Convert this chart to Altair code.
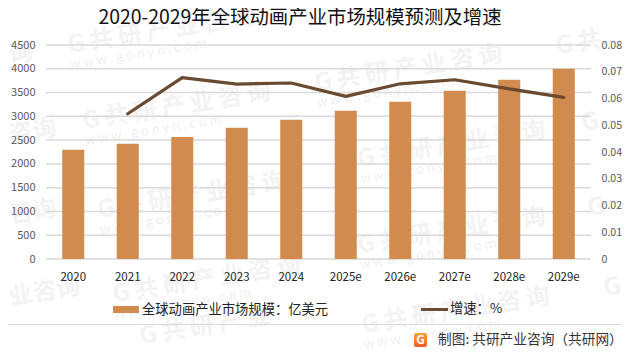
import altair as alt
import pandas as pd

years = ["2020","2021","2022","2023","2024","2025e","2026e","2027e","2028e","2029e"]
market = [2295,2421,2568,2758,2926,3116,3305,3537,3768,4000]
growth = [None,0.0543,0.0678,0.0654,0.0658,0.0608,0.0655,0.067,0.0636,0.0604]
left_ticks = [0,500,1000,1500,2000,2500,3000,3500,4000,4500]
right_ticks = [0,0.01,0.02,0.03,0.04,0.05,0.06,0.07,0.08]
title_text = "2020-2029年全球动画产业市场规模预测及增速"
legend_bar = "全球动画产业市场规模：亿美元"
legend_line = "增速：%"
credit = "制图: 共研产业咨询（共研网）"
wm_full = "G\u2009共\u2009研\u2009产\u2009业\u2009咨\u2009询"
wm_url = "w  w  w  .  g  o  n  y  n  .  c  o  m"

FONT = "Noto Sans CJK SC"
W, H = 545, 214
PX, PY = 46, 45
BAR, LINE, GRID = "#D18B4E", "#6A4A30", "#D9D9D9"
one = pd.DataFrame({"a": [0]})


def at(x, y):
    return dict(x=alt.value(x - PX), y=alt.value(y - PY))


def txt(s, x, y, size, color="#222222", align="left", **kw):
    return alt.Chart(one).mark_text(text=s, font=FONT, fontSize=size, color=color, align=align,
                                    baseline="middle", **kw).encode(**at(x, y))


marks = []
# watermarks: (start x, centre y, Chinese text, url text or "")
for x, y, cn, url in [
    (68, 46, wm_full, wm_url), (83, 122, wm_full, wm_url), (98, 211, wm_full, wm_url),
    (113, 295, wm_full, wm_url), (315, 84, wm_full, wm_url), (358, 160, wm_full, wm_url),
    (358, 246, wm_full, wm_url), (362, 326, wm_full, wm_url), (140, 337, "G\u2009共\u2009研\u2009产\u2009业", ""),
    (556, 47, "G\u2009共", ""), (582, 124, "G", ""), (588, 209, "G", ""), (604, 289, "G", ""),
    (9, 56, "询", ""), (9, 136, "咨询", ""), (9, 216, "咨询", ""), (9, 298, "业咨询", ""),
]:
    marks.append(txt(cn, x, y, 24, "#F3F3F3", fontWeight="bold", angle=351))
    if url:
        marks.append(txt(url, x + 2, y + 19, 13, "#F0F0F0", angle=351))

xs = alt.X("year:N", sort=years, scale=alt.Scale(paddingInner=0.596, paddingOuter=0.298),
           axis=alt.Axis(title=None, domain=False, ticks=False, labelAngle=0, labelPadding=12, zindex=1,
                         labelFont=FONT, labelFontSize=11.5, labelColor="#222222"))

df = pd.DataFrame({"year": years, "market": market, "growth": growth})

grid = alt.Chart(pd.DataFrame({"v": left_ticks})).mark_rule(color=GRID, strokeWidth=1.5).encode(
    y=alt.Y("v:Q", scale=alt.Scale(domain=[0, 4500]), axis=None))

bars = alt.Chart(df).mark_bar(color=BAR).encode(
    x=xs,
    y=alt.Y("market:Q", scale=alt.Scale(domain=[0, 4500]),
            axis=alt.Axis(title=None, values=left_ticks, format="d", domain=False, ticks=False, grid=False, zindex=1,
                          labelPadding=11, labelFont=FONT, labelFontSize=11, labelColor="#595959")))

line = alt.Chart(df).mark_line(color=LINE, strokeWidth=3.2, strokeCap="round", strokeJoin="round").encode(
    x=alt.X("year:N", sort=years),
    y=alt.Y("growth:Q", scale=alt.Scale(domain=[0, 0.08]),
            axis=alt.Axis(title=None, values=right_ticks, orient="right", format="~g", domain=False, ticks=False,
                          grid=False, zindex=1, labelPadding=10, labelFont=FONT, labelFontSize=10.6, labelColor="#595959")))

deco = [
    txt(title_text, 300, 18, 19.4, "#111111", "center"),
    txt(legend_bar, 142, 310, 13.3),
    txt(legend_line, 450, 309, 13.3),
    txt(credit, 438, 340, 13.7, "#333333"),
    alt.Chart(one).mark_rule(color=GRID, strokeWidth=1).encode(
        x=alt.value(8 - PX), x2=alt.value(622 - PX), y=alt.value(324.5 - PY)),
    alt.Chart(one).mark_rect(color=BAR).encode(
        x=alt.value(113 - PX), x2=alt.value(139 - PX), y=alt.value(306 - PY), y2=alt.value(313 - PY)),
    alt.Chart(one).mark_rule(color=LINE, strokeWidth=3).encode(
        x=alt.value(421 - PX), x2=alt.value(448 - PX), y=alt.value(309.5 - PY)),
    alt.Chart(one).mark_rect(
        color=alt.Gradient(gradient="linear", x1=0, y1=0, x2=0, y2=1,
                           stops=[alt.GradientStop(color="#F9A43A", offset=0),
                                  alt.GradientStop(color="#EE5A24", offset=1)]),
        cornerRadius=2).encode(
        x=alt.value(414 - PX), x2=alt.value(427 - PX), y=alt.value(333 - PY), y2=alt.value(347 - PY)),
    txt("G", 420.5, 340, 12, "white", "center", fontWeight="bold"),
]

chart = alt.layer(*marks, grid, bars, line, *deco).resolve_scale(y="independent").properties(
    width=W, height=H, padding={"left": 38, "top": 37, "right": 31, "bottom": 91},
    autosize=alt.AutoSizeParams(type="none"),
).configure_view(stroke=None)

chart.save("out.html", embed_options={"renderer": "svg", "actions": False})
